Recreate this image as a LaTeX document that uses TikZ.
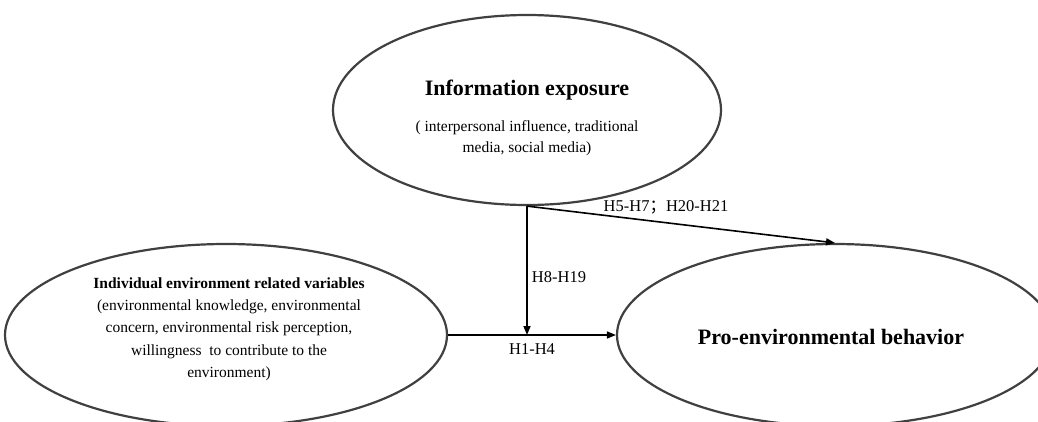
\documentclass[tikz,border=0pt]{standalone}
\usepackage{fontspec}
\setmainfont{Liberation Serif}
\newfontfamily\cjk{Noto Sans CJK SC}
\usetikzlibrary{shapes.geometric,arrows.meta}
\tikzset{
  oval/.style={draw=black!75, line width=2.2pt, ellipse, inner sep=0pt},
  conn/.style={draw=black, line width=1.6pt, -{Triangle[length=9pt,width=7pt]}},
  lbl/.style={font=\fontsize{16.5}{19}\selectfont, inner sep=0pt},
  body/.style={align=center, inner sep=0pt},
}
\begin{document}
\begin{tikzpicture}[x=1pt,y=-1pt]
\useasboundingbox (0,0) rectangle (1038,421);
\clip (0,0) rectangle (1038,421);
\fill[white] (0,0) rectangle (1038,421);
% ellipses
\node[oval, minimum width=388pt, minimum height=190pt] (info) at (527,110) {};
\node[oval, minimum width=442pt, minimum height=182pt] (indiv) at (226,335) {};
\node[oval, minimum width=436pt, minimum height=182pt] (pro) at (835,335) {};
% texts
\node[body, font=\fontsize{22}{26}\selectfont\bfseries] (infotitle) at (527,90) {Information exposure};
\node[body, font=\fontsize{15.5}{21}\selectfont] (infosub) at (527,138) {( interpersonal influence, traditional\\media, social media)};
\node[body, font=\fontsize{15.5}{22.3}\selectfont] (indivtxt) at (229,329) {\textbf{Individual environment related variables}\\(environmental knowledge, environmental\\concern, environmental risk perception,\\willingness\ \ to contribute to the\\environment)};
\node[body, font=\fontsize{22}{26}\selectfont\bfseries] (protxt) at (831,337) {Pro-environmental behavior};
% connectors
\coordinate (m) at (info.south |- indiv.east);
\draw[conn] (info.south) -- (m);
\draw[conn] (info.south) -- (pro.north);
\draw[conn] (indiv.east) -- (pro.west);
% labels
\node[lbl] (l1) at (666,207) {H5-H7{\cjk；}H20-H21};
\node[lbl] (l2) at (559,277) {H8-H19};
\node[lbl] (l3) at (532,349) {H1-H4};
\end{tikzpicture}
\end{document}
